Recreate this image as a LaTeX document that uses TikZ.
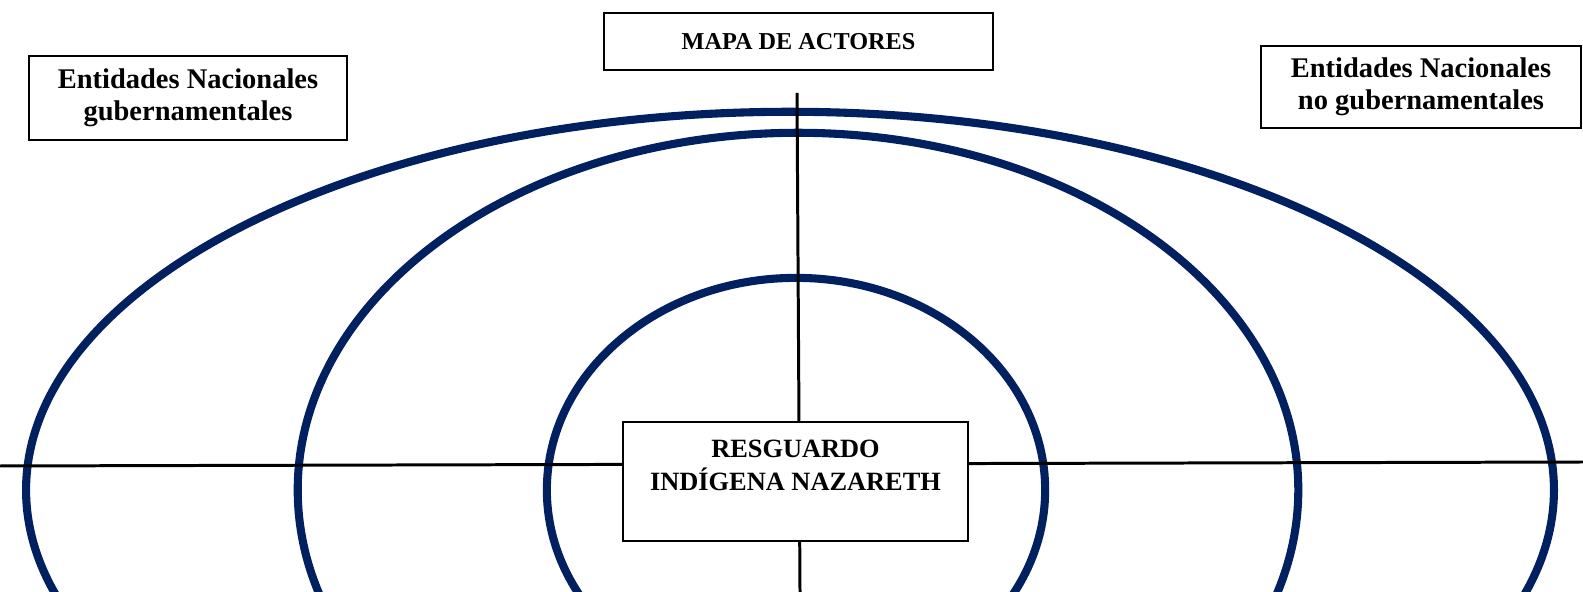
\documentclass[tikz,border=0pt]{standalone}
\usepackage{fontspec}
\setmainfont{Liberation Serif}
\usetikzlibrary{positioning}
\definecolor{azulmapa}{RGB}{0,32,96}
\tikzset{
  etiqueta/.style={draw=black, line width=0.6pt, fill=white, align=center, inner sep=0pt},
  anillo/.style={draw=azulmapa, line width=2.3pt},
  eje/.style={draw=black, line width=0.85pt}
}
\begin{document}
\begin{tikzpicture}[x=0.01cm, y=-0.01cm]
        \useasboundingbox (0,0) rectangle (1583,592);
        \clip (0,0) rectangle (1583,592);
        \foreach \cx/\rx/\ry in {790/7.635/3.78, 798/5.00/3.57, 796/2.49/2.12}
          \draw[anillo] (\cx,490) ellipse [x radius=\rx cm, y radius=\ry cm];
        \coordinate (izq) at (0,466);
        \coordinate (der) at (1583,462);
        \coordinate (arriba) at (797,93);
        \coordinate (abajo) at (800,592);
        \draw[eje] (izq) -- (der);
        \draw[eje] (arriba) -- (abajo);
        \node[etiqueta, minimum width=3.89cm, minimum height=0.57cm, font=\bfseries\fontsize{6.9}{8}\selectfont] (titulo) at (798.5,41.5) {MAPA DE ACTORES};
        \node[etiqueta, minimum width=3.18cm, minimum height=0.84cm, font=\bfseries\fontsize{8.1}{9.2}\selectfont] (gub) at (188,98) {Entidades Nacionales\\gubernamentales};
        \node[etiqueta, minimum width=3.20cm, minimum height=0.82cm, font=\bfseries\fontsize{8.1}{9.2}\selectfont] (nogub) at (1421,87) {Entidades Nacionales\\no gubernamentales};
        \node[etiqueta, minimum width=3.45cm, minimum height=1.19cm, font=\bfseries\fontsize{7.5}{9.4}\selectfont] (resguardo) at (795.5,481.5) {RESGUARDO\\INDÍGENA NAZARETH\\\mbox{}};
      \end{tikzpicture}
\end{document}
